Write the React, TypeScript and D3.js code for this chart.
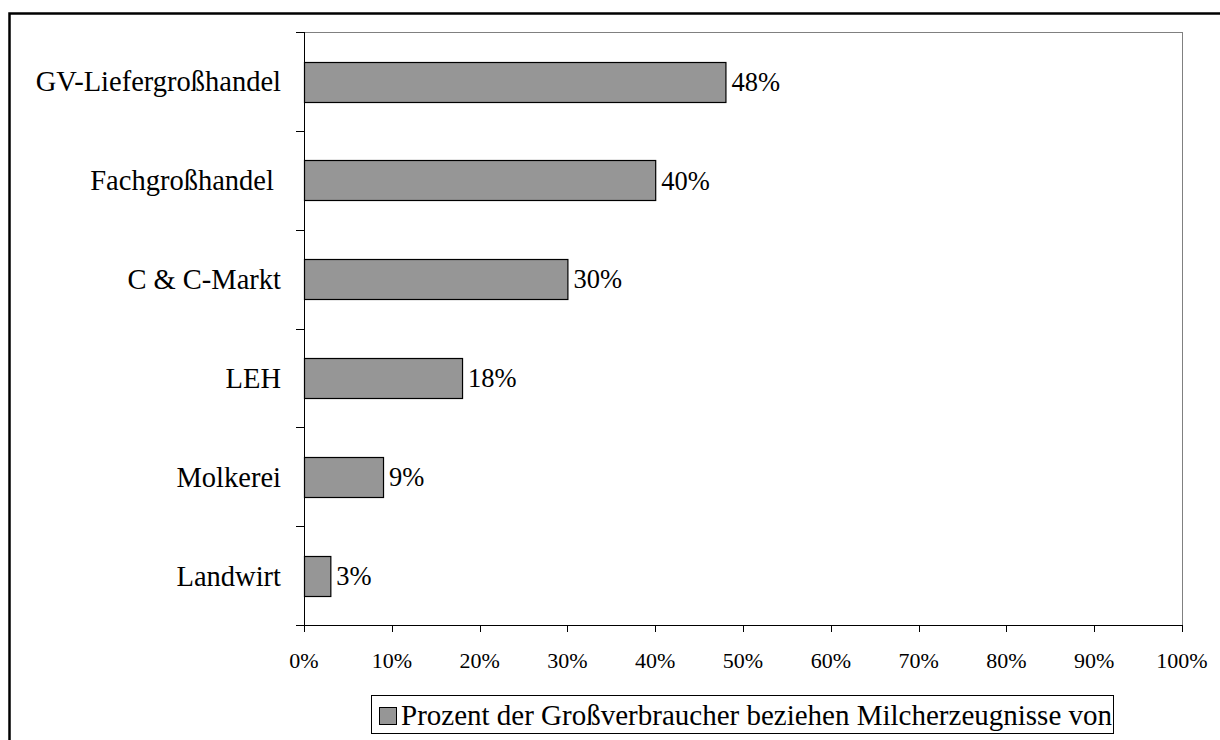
import React from "react";
import * as d3 from "d3";

// values
const categories = [
  "GV-Liefergroßhandel",
  "Fachgroßhandel ",
  "C & C-Markt",
  "LEH",
  "Molkerei",
  "Landwirt",
];
const shares = [48, 40, 30, 18, 9, 3];
const xTicks = [0, 10, 20, 30, 40, 50, 60, 70, 80, 90, 100];
const legendLabel = "Prozent der Großverbraucher beziehen Milcherzeugnisse von";

const font = "Liberation Serif";
const barFill = "#969696";

export default function App() {
  const margin = { top: 32, right: 38, bottom: 115, left: 304 };
  const W = 1220,
    H = 740;
  const x = d3.scaleLinear().domain([0, 100]).range([margin.left, W - margin.right]);
  const y = d3
    .scaleBand()
    .domain(categories)
    .range([margin.top, H - margin.bottom])
    .paddingInner(0.6)
    .paddingOuter(0.3);
  // category separators on the y axis
  const y0 = margin.top;
  const y1 = H - margin.bottom;
  const sep = d3.scaleLinear().domain([0, categories.length]).range([y0, y1]);

  return (
    <svg
      width={W}
      height={H}
      style={{ position: "absolute", left: 0, top: 0, background: "#fff", fontFamily: font }}
    >
      <rect x={9.5} y={13.5} width={1400} height={1000} fill="none" stroke="#000" strokeWidth={2.5} />

      {/* plot frame, grey top & right */}
      <line x1={x(0)} x2={x(100)} y1={y0 + 0.5} y2={y0 + 0.5} stroke="#808080" />
      <line x1={x(100) + 0.5} x2={x(100) + 0.5} y1={y0} y2={y1} stroke="#808080" />

      {shares.map((v, i) => (
        <g key={categories[i]}>
          <rect
            x={x(0) + 0.5}
            y={Math.round(y(categories[i])!) + 0.5}
            width={x(v) - x(0)}
            height={Math.round(y.bandwidth())}
            fill={barFill}
            stroke="#000"
            strokeWidth={1.2}
          />
          <text
            x={x(v) + 6}
            y={y(categories[i])! + y.bandwidth() / 2}
            dy="0.35em"
            fontSize={26.5}
          >
            {v}%
          </text>
          <text
            x={x(0) - 23}
            y={y(categories[i])! + y.bandwidth() / 2}
            dy="0.35em"
            fontSize={28.5}
            textAnchor="end"
            style={{ whiteSpace: "pre" }}
          >
            {categories[i]}
          </text>
        </g>
      ))}

      {/* y axis */}
      <line x1={x(0) + 0.5} x2={x(0) + 0.5} y1={y0} y2={y1} stroke="#000" />
      {d3.range(categories.length + 1).map((i) => (
        <line
          key={i}
          x1={x(0) - 8}
          x2={x(0)}
          y1={Math.round(sep(i)) + 0.5}
          y2={Math.round(sep(i)) + 0.5}
          stroke="#000"
        />
      ))}

      {/* x axis */}
      <line x1={x(0)} x2={x(100) + 1} y1={y1 + 0.5} y2={y1 + 0.5} stroke="#000" />
      {xTicks.map((t) => (
        <g key={t}>
          <line
            x1={Math.round(x(t)) + 0.5}
            x2={Math.round(x(t)) + 0.5}
            y1={y1}
            y2={y1 + 7}
            stroke="#000"
          />
          <text x={x(t)} y={y1 + 43} textAnchor="middle" fontSize={22}>
            {t}%
          </text>
        </g>
      ))}

      {/* legend */}
      <rect x={371.5} y={695.5} width={742} height={38} fill="#fff" stroke="#000" />
      <rect x={379.5} y={707.5} width={17} height={17} fill={barFill} stroke="#000" />
      <text x={401} y={725} fontSize={29}>
        {legendLabel}
      </text>
    </svg>
  );
}
